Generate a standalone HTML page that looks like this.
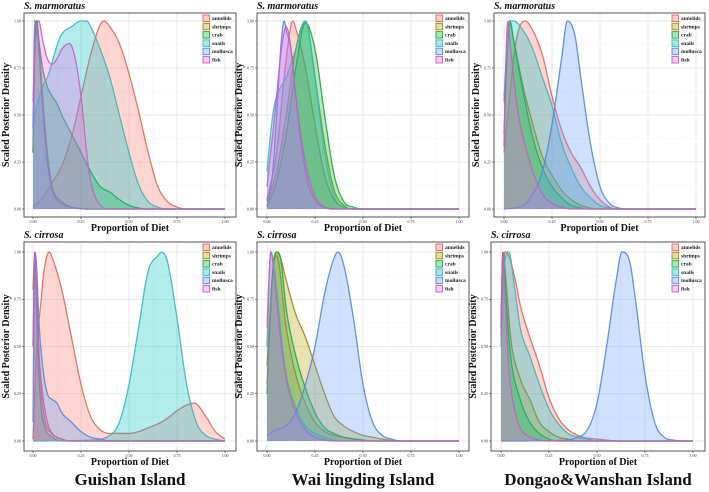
<!DOCTYPE html>
<html><head><meta charset="utf-8">
<style>
html,body{margin:0;padding:0;background:#fff;}
svg{display:block;}
svg text{font-family:"Liberation Serif","Times New Roman",serif;}
</style></head>
<body>
<svg id="chart" width="709" height="492" viewBox="0 0 709 492" xmlns="http://www.w3.org/2000/svg" font-family="Liberation Serif, serif"></svg>
<script>
const seriesNames = ["annelids","shrimps","crab","snails","mollusca","fish"];
const fills = ["#F8766D","#B79F00","#00BA38","#00BFC4","#619CFF","#F564E3"];
const strokes = ["#e0675f","#9d8a10","#27a540","#3fb5b8","#5b86d0","#c75fc2"];
const xTicks = [0,0.25,0.5,0.75,1];
const xTickLabels = ["0.00","0.25","0.50","0.75","1.00"];
const yTicks = [0,0.25,0.5,0.75,1];
const yTickLabels = ["0.00","0.25","0.50","0.75","1.00"];
const islandLabels = ["Guishan Island","Wai lingding Island","Dongao&Wanshan Island"];
const speciesLabels = ["S. marmoratus","S. cirrosa"];

const p1_annelids=[[0,.01],[.05,.06],[.1,.14],[.15,.23],[.2,.38],[.25,.6],[.3,.82],[.35,.98],[.37,1],[.4,.97],[.45,.88],[.5,.72],[.55,.52],[.6,.3],[.65,.12],[.7,.04],[.75,.01],[.8,0],[1,0]];
const p1_shrimps=[[0,.3],[.01,.9],[.02,1],[.03,.9],[.05,.6],[.075,.3],[.1,.12],[.15,.04],[.2,.01],[.3,0],[1,0]];
const p1_crab=[[0,.3],[.01,.9],[.02,1],[.03,.9],[.05,.75],[.075,.65],[.1,.6],[.125,.56],[.15,.5],[.2,.4],[.25,.3],[.3,.2],[.35,.12],[.4,.09],[.45,.05],[.5,.02],[.55,.005],[.6,0],[1,0]];
const p1_snails=[[0,.43],[.02,.55],[.05,.65],[.075,.7],[.1,.78],[.125,.87],[.15,.93],[.2,.97],[.25,1],[.28,1],[.3,.97],[.35,.85],[.4,.7],[.45,.5],[.5,.3],[.55,.13],[.6,.04],[.65,.01],[.7,0],[1,0]];
const p1_mollusca=[[0,.43],[.01,1],[.02,.95],[.03,.85],[.05,.55],[.075,.25],[.1,.1],[.125,.05],[.15,.03],[.2,.01],[.3,0],[1,0]];
const p1_fish=[[0,.57],[.01,.85],[.02,.98],[.03,1],[.05,.9],[.075,.8],[.1,.77],[.125,.8],[.15,.85],[.19,.88],[.22,.8],[.25,.6],[.28,.3],[.3,.15],[.35,.02],[.4,0],[1,0]];
const p2_annelids=[[0,.05],[.05,.3],[.1,.8],[.135,1],[.15,.96],[.2,.75],[.25,.45],[.3,.18],[.35,.05],[.4,.01],[.45,0],[1,0]];
const p2_shrimps=[[0,.04],[.05,.2],[.1,.5],[.15,.85],[.2,1],[.25,.7],[.3,.35],[.35,.1],[.4,.02],[.45,0],[1,0]];
const p2_crab=[[0,.02],[.05,.15],[.1,.4],[.15,.75],[.2,.99],[.25,.85],[.3,.5],[.35,.18],[.4,.04],[.45,.01],[.5,0],[1,0]];
const p2_snails=[[0,.2],[.03,.5],[.05,.6],[.1,.7],[.15,.85],[.2,1],[.25,.7],[.3,.3],[.35,.07],[.4,.01],[.45,0],[1,0]];
const p2_mollusca=[[0,.01],[.03,.2],[.05,.5],[.075,.9],[.09,1],[.1,.95],[.125,.85],[.15,.6],[.2,.2],[.25,.05],[.3,.01],[.35,0],[1,0]];
const p2_fish=[[0,.12],[.03,.4],[.05,.6],[.075,.85],[.1,.97],[.125,.85],[.15,.6],[.2,.25],[.25,.07],[.3,.01],[.35,0],[1,0]];
const p3_annelids=[[0,.3],[.03,.6],[.05,.8],[.075,.95],[.11,1],[.15,.95],[.2,.82],[.25,.6],[.3,.42],[.35,.3],[.4,.22],[.45,.12],[.5,.05],[.55,.01],[.6,0],[1,0]];
const p3_shrimps=[[0,.57],[.02,.9],[.03,1],[.05,.9],[.1,.65],[.15,.45],[.2,.28],[.25,.18],[.3,.1],[.35,.05],[.4,.02],[.45,.005],[.5,0],[1,0]];
const p3_crab=[[0,.4],[.02,.9],[.03,1],[.05,.9],[.1,.62],[.15,.38],[.2,.22],[.25,.12],[.3,.06],[.35,.02],[.4,.005],[.45,0],[1,0]];
const p3_snails=[[0,.6],[.03,1],[.05,1],[.1,.95],[.15,.85],[.2,.7],[.25,.55],[.3,.35],[.35,.22],[.4,.12],[.45,.06],[.5,.02],[.55,.005],[.6,0],[1,0]];
const p3_mollusca=[[0,0],[.1,.02],[.15,.08],[.2,.2],[.25,.45],[.3,.8],[.33,1],[.37,.92],[.4,.7],[.45,.35],[.5,.12],[.55,.03],[.6,.005],[.65,0],[1,0]];
const p3_fish=[[0,.33],[.01,.8],[.02,1],[.03,.9],[.05,.7],[.075,.5],[.1,.38],[.15,.2],[.2,.08],[.25,.03],[.3,.01],[.35,0],[1,0]];
const p4_annelids=[[0,.01],[.02,.5],[.04,.72],[.06,.92],[.085,1],[.1,.97],[.15,.8],[.2,.55],[.25,.3],[.3,.13],[.35,.06],[.4,.04],[.45,.04],[.5,.04],[.55,.05],[.6,.07],[.65,.09],[.7,.12],[.75,.16],[.8,.19],[.84,.2],[.9,.13],[.95,.05],[1,.01]];
const p4_shrimps=[[0,.8],[.01,1],[.02,.7],[.04,.3],[.06,.12],[.1,.04],[.15,.01],[.2,0],[1,0]];
const p4_crab=[[0,.5],[.01,1],[.02,.6],[.04,.2],[.06,.08],[.1,.02],[.15,0],[1,0]];
const p4_snails=[[0,0],[.3,.005],[.4,.03],[.45,.1],[.5,.3],[.55,.6],[.6,.9],[.65,.98],[.67,1],[.7,.95],[.75,.65],[.8,.3],[.85,.1],[.9,.03],[.95,.01],[1,0]];
const p4_mollusca=[[0,.1],[.01,1],[.02,.9],[.03,.65],[.05,.4],[.075,.25],[.1,.22],[.125,.2],[.15,.15],[.2,.1],[.25,.05],[.3,.02],[.35,.01],[.4,0],[1,0]];
const p4_fish=[[0,.5],[.01,1],[.02,.85],[.03,.5],[.05,.25],[.075,.1],[.1,.04],[.15,.01],[.2,0],[1,0]];
const p5_annelids=[[0,.3],[.03,.9],[.05,.98],[.1,.6],[.15,.35],[.2,.2],[.25,.1],[.3,.05],[.35,.03],[.4,.02],[.5,.005],[.55,0],[1,0]];
const p5_shrimps=[[0,.4],[.03,.9],[.05,1],[.07,.97],[.1,.85],[.15,.67],[.2,.55],[.25,.4],[.3,.25],[.35,.13],[.4,.08],[.45,.05],[.5,.03],[.55,.02],[.6,.01],[.7,0],[1,0]];
const p5_crab=[[0,.25],[.03,.9],[.05,1],[.07,.97],[.1,.7],[.15,.45],[.2,.28],[.25,.15],[.3,.07],[.35,.04],[.4,.02],[.5,.005],[.55,0],[1,0]];
const p5_snails=[[0,.5],[.02,1],[.04,.9],[.075,.55],[.1,.35],[.15,.18],[.2,.08],[.25,.04],[.3,.02],[.35,.005],[.4,0],[1,0]];
const p5_mollusca=[[0,.03],[.05,.06],[.1,.08],[.15,.15],[.2,.3],[.25,.5],[.3,.78],[.35,.97],[.37,1],[.4,.93],[.45,.65],[.5,.3],[.55,.1],[.6,.03],[.65,.01],[.7,0],[1,0]];
const p5_fish=[[0,.6],[.02,1],[.04,.85],[.075,.5],[.1,.33],[.15,.15],[.2,.06],[.25,.02],[.3,.005],[.35,0],[1,0]];
const p6_annelids=[[0,.6],[.02,1],[.04,.98],[.075,.85],[.1,.72],[.15,.55],[.2,.4],[.25,.23],[.3,.12],[.35,.06],[.4,.03],[.45,.015],[.5,.01],[.55,.005],[.6,0],[1,0]];
const p6_shrimps=[[0,.65],[.01,1],[.03,.8],[.05,.55],[.1,.33],[.15,.22],[.2,.1],[.25,.05],[.3,.02],[.35,.01],[.4,0],[1,0]];
const p6_crab=[[0,.6],[.01,1],[.03,.7],[.05,.45],[.1,.22],[.15,.1],[.2,.04],[.25,.01],[.3,0],[1,0]];
const p6_snails=[[0,.5],[.02,.95],[.04,1],[.075,.78],[.1,.6],[.15,.45],[.2,.3],[.25,.17],[.3,.09],[.35,.04],[.4,.02],[.45,.01],[.5,0],[1,0]];
const p6_mollusca=[[0,0],[.3,.003],[.4,.02],[.45,.06],[.5,.2],[.55,.5],[.6,.85],[.63,1],[.67,.95],[.7,.75],[.75,.35],[.8,.1],[.85,.02],[.9,.005],[.95,0],[1,0]];
const p6_fish=[[0,.55],[.01,1],[.02,.8],[.04,.4],[.075,.15],[.1,.07],[.15,.02],[.2,.005],[.25,0],[1,0]];

const panelSeries = [
  [p1_annelids,p1_shrimps,p1_crab,p1_snails,p1_mollusca,p1_fish],
  [p2_annelids,p2_shrimps,p2_crab,p2_snails,p2_mollusca,p2_fish],
  [p3_annelids,p3_shrimps,p3_crab,p3_snails,p3_mollusca,p3_fish],
  [p4_annelids,p4_shrimps,p4_crab,p4_snails,p4_mollusca,p4_fish],
  [p5_annelids,p5_shrimps,p5_crab,p5_snails,p5_mollusca,p5_fish],
  [p6_annelids,p6_shrimps,p6_crab,p6_snails,p6_mollusca,p6_fish]
];

const NS="http://www.w3.org/2000/svg";
const svg=document.getElementById('chart');
const SERIF='Liberation Serif, Times New Roman, serif';
function mk(tag,attrs,parent){const e=document.createElementNS(NS,tag);for(const k in attrs)e.setAttribute(k,attrs[k]);if(tag==='text')e.setAttribute('font-family',SERIF);(parent||svg).appendChild(e);return e;}

const layouts=[
  {bx:24,bw:212,by:13,bh:204,x0:33,y0:209,y1:21},
  {bx:257,bw:212,by:13,bh:204,x0:267,y0:209,y1:21},
  {bx:494,bw:211,by:13,bh:204,x0:504,y0:209,y1:21},
  {bx:24,bw:212,by:242,bh:209,x0:33,y0:441,y1:252},
  {bx:257,bw:212,by:242,bh:209,x0:267,y0:441,y1:252},
  {bx:491,bw:214,by:242,bh:209,x0:501,y0:441,y1:252}
];
const XW=192;

function monotone(pts){
  const n=pts.length,xs=pts.map(p=>p[0]),ys=pts.map(p=>p[1]);
  const d=[],m=new Array(n);
  for(let i=0;i<n-1;i++)d.push((ys[i+1]-ys[i])/(xs[i+1]-xs[i]));
  m[0]=d[0];m[n-1]=d[n-2];
  for(let i=1;i<n-1;i++){ if(d[i-1]*d[i]<=0)m[i]=0; else m[i]=(d[i-1]+d[i])/2; }
  for(let i=0;i<n-1;i++){ if(d[i]===0){m[i]=0;m[i+1]=0;continue;} const a=m[i]/d[i],b=m[i+1]/d[i],s=a*a+b*b; if(s>9){const t=3/Math.sqrt(s);m[i]=t*a*d[i];m[i+1]=t*b*d[i];} }
  return function(x){
    let i=0;while(i<n-2&&x>xs[i+1])i++;
    const h=xs[i+1]-xs[i],t=(x-xs[i])/h,t2=t*t,t3=t2*t;
    return (2*t3-3*t2+1)*ys[i]+(t3-2*t2+t)*h*m[i]+(-2*t3+3*t2)*ys[i+1]+(t3-t2)*h*m[i+1];
  };
}

layouts.forEach((L,pi)=>{
  const g=mk('g',{});
  
  
  const sx=v=>L.x0+v*XW, sy=v=>L.y0+v*(L.y1-L.y0);
  const bg=mk('rect',{x:L.bx,y:L.by,width:L.bw,height:L.bh,fill:'#fff'},g);
  
  
  for(let k=0;k<=8;k++){const v=k/8;const major=k%2===0;
    mk('line',{x1:sx(v),x2:sx(v),y1:L.by,y2:L.by+L.bh,stroke:major?'#e3e3e3':'#f1f1f1','stroke-width':major?0.8:0.5},g);
    mk('line',{x1:L.bx,x2:L.bx+L.bw,y1:sy(v),y2:sy(v),stroke:major?'#e3e3e3':'#f1f1f1','stroke-width':major?0.8:0.5},g);}
  panelSeries[pi].forEach((pts,si)=>{
    const f=monotone(pts);let d='';
    for(let k=0;k<=400;k++){const x=k/400;let y=Math.max(0,Math.min(1.0,f(x)));d+=(k?'L':'M')+sx(x).toFixed(2)+','+sy(y).toFixed(2);}
    const area=mk('path',{d:d+'L'+sx(1)+','+sy(0)+'L'+sx(0)+','+sy(0)+'Z',fill:fills[si],'fill-opacity':0.3,stroke:'none'},g);
    
    
    const line=mk('path',{d:d,fill:'none',stroke:strokes[si],'stroke-width':1.3,'stroke-opacity':0.9},g);
    
    
  });
  const border=mk('rect',{x:L.bx,y:L.by,width:L.bw,height:L.bh,fill:'none',stroke:'#444','stroke-width':0.9},g);
  
  
  xTicks.forEach((v,i)=>{mk('line',{x1:sx(v),x2:sx(v),y1:L.by+L.bh,y2:L.by+L.bh+2,stroke:'#333','stroke-width':0.6},g);
    const t=mk('text',{x:sx(v),y:L.by+L.bh+6,'font-size':4,'text-anchor':'middle',fill:'#333'},g);t.textContent=xTickLabels[i];
    });
  yTicks.forEach((v,i)=>{mk('line',{x1:L.bx-2,x2:L.bx,y1:sy(v),y2:sy(v),stroke:'#333','stroke-width':0.6},g);
    const t=mk('text',{x:L.bx-3,y:sy(v)+1.4,'font-size':4,'text-anchor':'end',fill:'#333'},g);t.textContent=yTickLabels[i];
    });
  const st=mk('text',{x:L.bx,y:L.by-4,'font-size':10,'font-style':'italic','font-weight':'bold',fill:'#111'},g);
  st.textContent=speciesLabels[pi<3?0:1];
  
  const xt=mk('text',{x:L.bx+L.bw/2,y:L.by+L.bh+14,'font-size':10,'font-weight':'bold','text-anchor':'middle',fill:'#111'},g);
  xt.textContent='Proportion of Diet';
  
  const yx=L.bx-15,yy=L.by+L.bh/2;
  const yt=mk('text',{x:yx,y:yy,'font-size':10,'font-weight':'bold','text-anchor':'middle',fill:'#111',transform:'rotate(-90 '+yx+' '+yy+')'},g);
  yt.textContent='Scaled Posterior Density';
  
  const lx=L.bx+L.bw-33, ly=L.by+2;
  seriesNames.forEach((nm,si)=>{
    const r=mk('rect',{x:lx,y:ly+si*8.3,width:6.5,height:6.5,fill:fills[si],'fill-opacity':0.35,stroke:strokes[si],'stroke-width':0.9},g);
    
    const t=mk('text',{x:lx+9,y:ly+si*8.3+5,'font-size':5.5,'font-weight':'bold',fill:'#222'},g);t.textContent=nm;
    
  });
});
[130,363,598].forEach((cx,i)=>{
  const t=mk('text',{x:cx,y:485,'font-size':17,'font-weight':'bold','text-anchor':'middle',fill:'#111'});
  t.textContent=islandLabels[i];
  
  
});
</script>
</body></html>
